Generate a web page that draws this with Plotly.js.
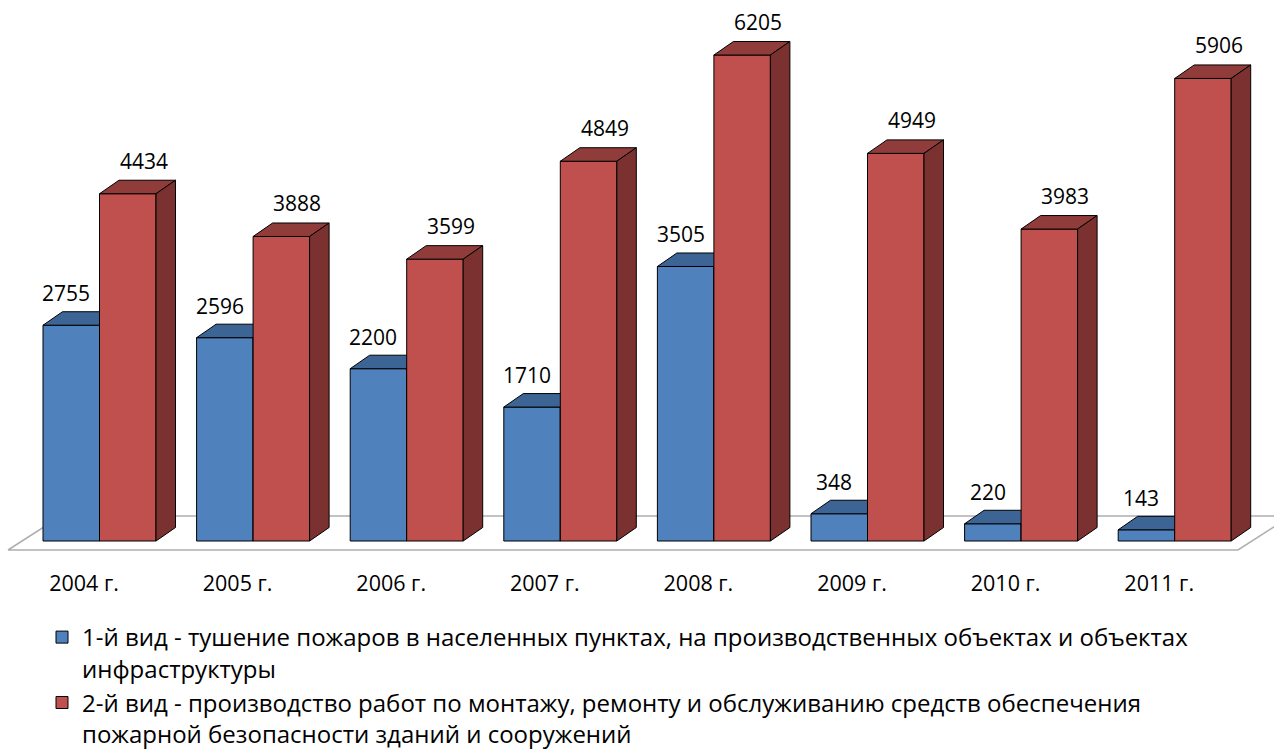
<!DOCTYPE html>
<html>
<head>
<meta charset="utf-8">
<script src="https://cdn.plot.ly/plotly-3.0.1.min.js"></script>
<style>html,body{margin:0;padding:0;background:#fff;}#chart{width:1274px;height:749px;}</style>
</head>
<body>
<div id="chart"></div>
<script>
// ---- data ----
const categories = ['2004 г.', '2005 г.', '2006 г.', '2007 г.', '2008 г.', '2009 г.', '2010 г.', '2011 г.'];
const series1Name = '1-й вид - тушение пожаров в населенных пунктах, на производственных объектах и объектах<br>инфраструктуры';
const series2Name = '2-й вид - производство работ по монтажу, ремонту и обслуживанию средств обеспечения<br>пожарной безопасности зданий и сооружений';
const series1 = [2755, 2596, 2200, 1710, 3505, 348, 220, 143];
const series2 = [4434, 3888, 3599, 4849, 6205, 4949, 3983, 5906];

// ---- geometry (pixels -> data units) ----
const W = 1274, H = 749;
const PX_CAT = 153.6;          // px per category
const PX_VAL = 0.07832;        // px per value unit
const firstTickPx = 84;
const baselinePx = 541;
const plotBottomPx = 565;
const x0 = -firstTickPx / PX_CAT;
const x1 = x0 + W / PX_CAT;
const yTop = baselinePx / PX_VAL;
const yBottom = -(plotBottomPx - baselinePx) / PX_VAL;
const barW = 56.5 / PX_CAT;
const off1 = -41 / PX_CAT;
const off2 = off1 + barW;
const dX = 19.5 / PX_CAT;
const dY = 13.5 / PX_VAL;

const idx = categories.map((c, i) => i);

function faces(vals, off, kind) {
  const xs = [], ys = [];
  vals.forEach((v, i) => {
    const xl = i + off, xr = xl + barW;
    if (kind === 'top') {
      xs.push(xl, xr, xr + dX, xl + dX, xl, null);
      ys.push(v, v, v + dY, v + dY, v, null);
    } else {
      xs.push(xr, xr + dX, xr + dX, xr, xr, null);
      ys.push(0, dY, v + dY, v, 0, null);
    }
  });
  return {x: xs, y: ys};
}

const colors = {
  s1: {front: '#4F81BD', top: '#3C6494', side: '#2F4F78'},
  s2: {front: '#C0504D', top: '#903C3A', side: '#7A3130'}
};
const edge = {color: '#000000', width: 1};

function poly(f, color, z) {
  return {type: 'scatter', mode: 'lines', x: f.x, y: f.y, fill: 'toself', fillcolor: color,
          line: edge, hoverinfo: 'skip', showlegend: false, zorder: z, cliponaxis: true};
}

// floor (decoration)
const floorFrontPx = 550, floorBackPx = 516, floorLeftPx = 8, floorRightPx = 1238, floorDepthDx = 53;
const fxl = (floorLeftPx - firstTickPx) / PX_CAT, fxr = (floorRightPx - firstTickPx) / PX_CAT;
const fdx = floorDepthDx / PX_CAT;
const fyf = (baselinePx - floorFrontPx) / PX_VAL, fyb = (baselinePx - floorBackPx) / PX_VAL;
const floor = {type: 'scatter', mode: 'lines', x: [fxl, fxr, fxr + fdx, fxl + fdx, fxl], y: [fyf, fyf, fyb, fyb, fyf],
  fill: 'toself', fillcolor: '#ffffff', line: {color: '#AEAEAE', width: 1.5}, hoverinfo: 'skip', showlegend: false, zorder: -1};

const traces = [
  floor,
  {type: 'bar', name: series1Name, x: idx, y: series1, width: barW, offset: off1,
   marker: {color: colors.s1.front, line: edge}, hoverinfo: 'skip', zorder: 0},
  poly(faces(series1, off1, 'top'), colors.s1.top, 1),
  poly(faces(series1, off1, 'side'), colors.s1.side, 1),
  {type: 'bar', name: series2Name, x: idx, y: series2, width: barW, offset: off2,
   marker: {color: colors.s2.front, line: edge}, hoverinfo: 'skip', zorder: 2},
  poly(faces(series2, off2, 'top'), colors.s2.top, 3),
  poly(faces(series2, off2, 'side'), colors.s2.side, 3)
];

const labelFont = {family: 'Open Sans, sans-serif', size: 21, color: '#000'};
const annotations = [];
series1.forEach((v, i) => annotations.push({x: i + off1 + barW / 2, y: v, xref: 'x', yref: 'y', text: String(v),
  showarrow: false, xshift: -5, yshift: 32, yanchor: 'middle', font: labelFont}));
series2.forEach((v, i) => annotations.push({x: i + off2 + barW / 2, y: v, xref: 'x', yref: 'y', text: String(v),
  showarrow: false, xshift: 16, yshift: 33, yanchor: 'middle', font: labelFont}));

const layout = {
  width: W, height: H,
  margin: {l: 0, r: 0, t: 0, b: H - plotBottomPx, pad: 0, autoexpand: false},
  paper_bgcolor: '#ffffff', plot_bgcolor: 'rgba(0,0,0,0)',
  barmode: 'overlay',
  showlegend: true,
  xaxis: {range: [x0, x1], tickvals: idx, ticktext: categories, showgrid: false, zeroline: false, showline: false,
          ticks: '', ticklabelstandoff: 3, tickfont: {family: 'Open Sans, sans-serif', size: 21.5, color: '#000'}, fixedrange: true},
  yaxis: {range: [yBottom, yTop], visible: false, fixedrange: true},
  legend: {x: 42 / W, xanchor: 'left', yref: 'container', y: 1 - 615 / H, yanchor: 'top', valign: 'top',
           font: {family: 'Open Sans, sans-serif', size: 24, color: '#000'}, bgcolor: 'rgba(0,0,0,0)', itemwidth: 30,
           traceorder: 'normal'},
  annotations: annotations
};

Plotly.newPlot('chart', traces, layout, {displayModeBar: false, staticPlot: true});
</script>
</body>
</html>
